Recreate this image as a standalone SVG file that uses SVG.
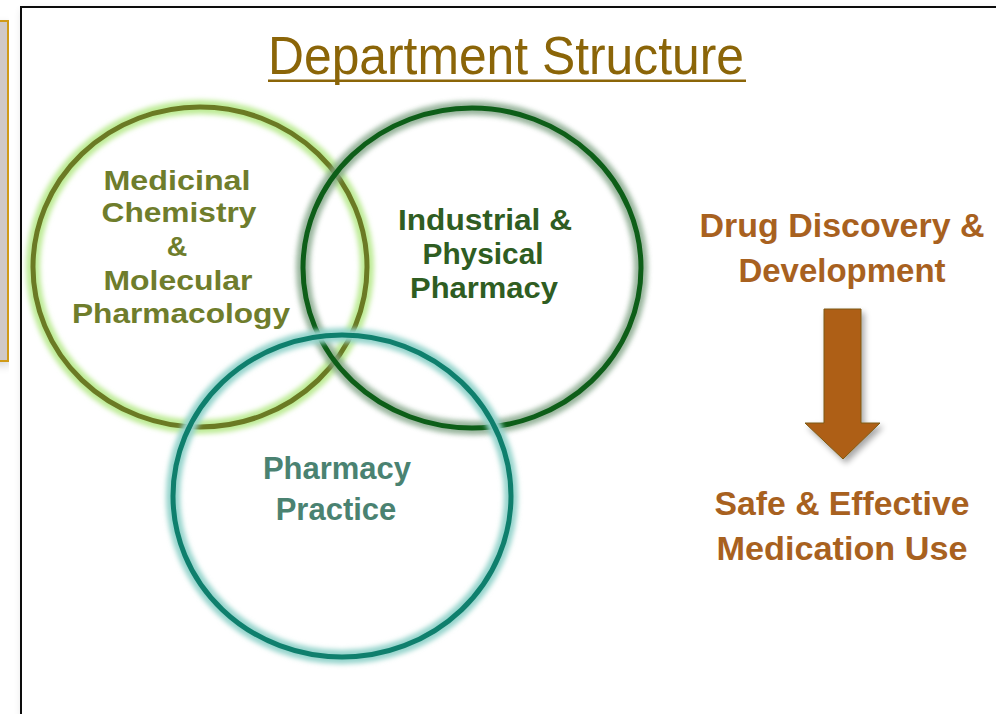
<svg xmlns="http://www.w3.org/2000/svg" width="996" height="714" viewBox="0 0 996 714">
<style>
.lbl{font-family:"Liberation Sans",Arial,sans-serif;font-weight:bold;text-anchor:middle}
.olive{fill:#6F7D2C;font-size:28.5px}
.dgreen{fill:#2F5D22;font-size:30px}
.teal{fill:#4A8271;font-size:31px}
.brown{fill:#A8611F;font-size:33px}
.ring{fill:none;stroke-width:5}
.glow{fill:none;stroke-width:14;filter:url(#blur)}
</style>
<defs>
<filter id="blur" x="-10%" y="-10%" width="120%" height="120%"><feGaussianBlur stdDeviation="2.5"/></filter>
<filter id="shadow" x="-20%" y="-20%" width="140%" height="140%"><feGaussianBlur in="SourceAlpha" stdDeviation="3"/><feOffset dx="3" dy="4"/><feComponentTransfer><feFuncA type="linear" slope="0.35"/></feComponentTransfer><feMerge><feMergeNode/><feMergeNode in="SourceGraphic"/></feMerge></filter>
<filter id="fshadow" x="-5%" y="-5%" width="110%" height="110%"><feGaussianBlur in="SourceAlpha" stdDeviation="4"/><feOffset dx="2" dy="4"/><feComponentTransfer><feFuncA type="linear" slope="0.15"/></feComponentTransfer><feMerge><feMergeNode/><feMergeNode in="SourceGraphic"/></feMerge></filter>
</defs>
<rect width="996" height="714" fill="#ffffff"/>
<g id="side-box">
<rect x="-10" y="21" width="18" height="340" fill="#D0C9C5" stroke="#D09A12" stroke-width="2" filter="url(#fshadow)"/>
</g>
<g id="frame">
<rect x="21" y="7" width="1000" height="740" fill="#ffffff" stroke="#111111" stroke-width="2" filter="url(#fshadow)"/>
</g>
<g id="title">
<text x="268" y="74" font-family="'Liberation Sans',Arial,sans-serif" font-size="53" fill="#8B6508" textLength="476" lengthAdjust="spacingAndGlyphs">Department Structure</text>
<rect x="268" y="79.5" width="478" height="2.5" fill="#8B6508"/>
</g>
<g id="medicinal">
<ellipse class="glow" cx="200" cy="267" rx="167" ry="160" stroke="#BDEB95"/>
<ellipse class="ring" cx="200" cy="267" rx="167" ry="160" stroke="#6B7A24"/>
</g>
<g id="industrial">
<ellipse class="glow" cx="472" cy="268" rx="169" ry="160" stroke="#7FA384" opacity="0.8"/>
<ellipse class="ring" cx="472" cy="268" rx="169" ry="160" stroke="#0D5E18"/>
</g>
<g id="practice">
<ellipse class="glow" cx="342" cy="496" rx="169" ry="161" stroke="#95D4CC"/>
<ellipse class="ring" cx="342" cy="496" rx="169" ry="161" stroke="#0F7F6D"/>
</g>
<g id="medicinal-label">
<text class="lbl olive" x="177" y="190" textLength="147" lengthAdjust="spacingAndGlyphs">Medicinal</text>
<text class="lbl olive" x="179" y="222" textLength="155" lengthAdjust="spacingAndGlyphs">Chemistry</text>
<text class="lbl olive" x="177" y="256">&amp;</text>
<text class="lbl olive" x="178" y="290" textLength="149" lengthAdjust="spacingAndGlyphs">Molecular</text>
<text class="lbl olive" x="181" y="323" textLength="218" lengthAdjust="spacingAndGlyphs">Pharmacology</text>
</g>
<g id="industrial-label">
<text class="lbl dgreen" x="485" y="230" textLength="174" lengthAdjust="spacingAndGlyphs">Industrial &amp;</text>
<text class="lbl dgreen" x="483" y="264" textLength="121" lengthAdjust="spacingAndGlyphs">Physical</text>
<text class="lbl dgreen" x="484" y="298" textLength="148" lengthAdjust="spacingAndGlyphs">Pharmacy</text>
</g>
<g id="practice-label">
<text class="lbl teal" x="337" y="479">Pharmacy</text>
<text class="lbl teal" x="336" y="520">Practice</text>
</g>
<g id="discovery">
<text class="lbl brown" x="842" y="237" textLength="285" lengthAdjust="spacingAndGlyphs">Drug Discovery &amp;</text>
<text class="lbl brown" x="842" y="282">Development</text>
</g>
<g id="medication">
<text class="lbl brown" x="842" y="515" textLength="255" lengthAdjust="spacingAndGlyphs">Safe &amp; Effective</text>
<text class="lbl brown" x="842" y="560" textLength="251" lengthAdjust="spacingAndGlyphs">Medication Use</text>
</g>
<g id="connectors">
<path d="M824 309 H861 V423 H880 L843 459 L805 423 H824 Z" fill="#AE5E17" stroke="#7D5A12" stroke-width="1" filter="url(#shadow)"/>
</g>
</svg>
